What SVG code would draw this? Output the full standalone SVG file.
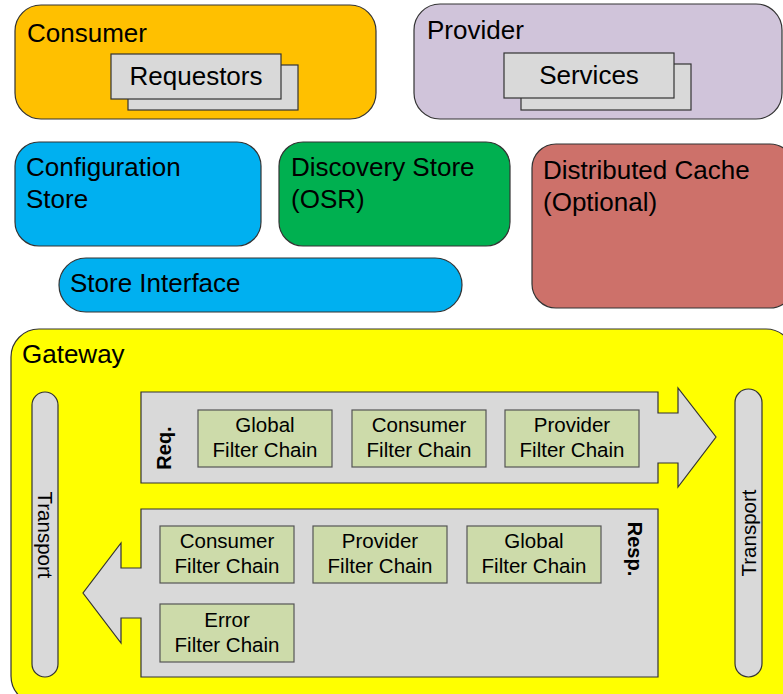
<svg xmlns="http://www.w3.org/2000/svg" width="783" height="694" viewBox="0 0 783 694">
<style>
text{font-family:"Liberation Sans",Arial,sans-serif;fill:#000}
.big{font-size:26px}
.mid{font-size:20.5px}
.c{text-anchor:middle}
.b{font-weight:bold;font-size:20px}
.box{stroke:#333;stroke-width:1.2}
.gray{fill:#D9D9D9;stroke:#333;stroke-width:1.2}
.flt{fill:#CDDBAA;stroke:#555;stroke-width:1.2}
</style>
<rect width="783" height="694" fill="#fff"/>
<g id="consumer">
<rect class="box" x="15" y="5" width="361" height="114" rx="26" fill="#FFC000"/>
<text class="big" x="27" y="42">Consumer</text>
<rect class="gray" x="128" y="65" width="170" height="45"/>
<rect class="gray" x="111" y="54" width="170" height="45"/>
<text class="big c" x="196" y="85">Requestors</text>
</g>
<g id="provider">
<rect class="box" x="414" y="4" width="368" height="115" rx="26" fill="#D0C4DA"/>
<text class="big" x="427" y="39">Provider</text>
<rect class="gray" x="521" y="64" width="170" height="46"/>
<rect class="gray" x="504" y="53" width="170" height="45"/>
<text class="big c" x="589" y="84">Services</text>
</g>
<g id="config-store">
<rect class="box" x="15" y="142" width="246" height="104" rx="24" fill="#00B0F0"/>
<text class="big" x="26" y="176">Configuration</text>
<text class="big" x="26" y="208">Store</text>
</g>
<g id="discovery-store">
<rect class="box" x="279" y="142" width="231" height="104" rx="24" fill="#00B050"/>
<text class="big" x="291" y="176">Discovery Store</text>
<text class="big" x="291" y="208">(OSR)</text>
</g>
<g id="distributed-cache">
<rect class="box" x="532" y="144" width="262" height="164" rx="24" fill="#CD716A"/>
<text class="big" x="543" y="179">Distributed Cache</text>
<text class="big" x="543" y="211">(Optional)</text>
</g>
<g id="store-interface">
<rect class="box" x="59" y="258" width="403" height="54" rx="27" fill="#00B0F0"/>
<text class="big" x="70" y="292">Store Interface</text>
</g>
<g id="gateway">
<rect class="box" x="11" y="329" width="783" height="375" rx="28" fill="#FFFF00"/>
<text class="big" x="22" y="363">Gateway</text>
</g>
<g id="transport-left">
<rect class="gray" x="32" y="392" width="26" height="285" rx="13"/>
<text class="mid c" transform="translate(45,535) rotate(90)" dy="7">Transport</text>
</g>
<g id="transport-right">
<rect class="gray" x="735" y="389" width="27" height="288" rx="13.5"/>
<text class="mid c" transform="translate(748.5,533) rotate(-90)" dy="7">Transport</text>
</g>
<g id="connectors">
<polygon id="req-arrow" class="gray" points="141,392 658,392 658,413 678,413 678,388 716,437 678,487 678,463 658,463 658,483 141,483"/>
<polygon id="resp-arrow" class="gray" points="141,509 658,509 658,677 141,677 141,618 121,618 121,643 83,593 121,543 121,568 141,568"/>
</g>
<g id="req-label"><text class="b c" transform="translate(164,448) rotate(-90)" dy="7">Req.</text></g>
<g id="resp-label"><text class="b c" transform="translate(635,549) rotate(90)" dy="7">Resp.</text></g>
<g id="req-global">
<rect class="flt" x="198" y="410" width="134" height="57"/>
<text class="mid c" x="265" y="432">Global</text>
<text class="mid c" x="265" y="457">Filter Chain</text>
</g>
<g id="req-consumer">
<rect class="flt" x="352" y="410" width="134" height="57"/>
<text class="mid c" x="419" y="432">Consumer</text>
<text class="mid c" x="419" y="457">Filter Chain</text>
</g>
<g id="req-provider">
<rect class="flt" x="505" y="410" width="134" height="57"/>
<text class="mid c" x="572" y="432">Provider</text>
<text class="mid c" x="572" y="457">Filter Chain</text>
</g>
<g id="resp-consumer">
<rect class="flt" x="160" y="526" width="134" height="57"/>
<text class="mid c" x="227" y="548">Consumer</text>
<text class="mid c" x="227" y="573">Filter Chain</text>
</g>
<g id="resp-provider">
<rect class="flt" x="313" y="526" width="134" height="57"/>
<text class="mid c" x="380" y="548">Provider</text>
<text class="mid c" x="380" y="573">Filter Chain</text>
</g>
<g id="resp-global">
<rect class="flt" x="467" y="526" width="134" height="57"/>
<text class="mid c" x="534" y="548">Global</text>
<text class="mid c" x="534" y="573">Filter Chain</text>
</g>
<g id="resp-error">
<rect class="flt" x="160" y="604" width="134" height="58"/>
<text class="mid c" x="227" y="627">Error</text>
<text class="mid c" x="227" y="652">Filter Chain</text>
</g>
</svg>
